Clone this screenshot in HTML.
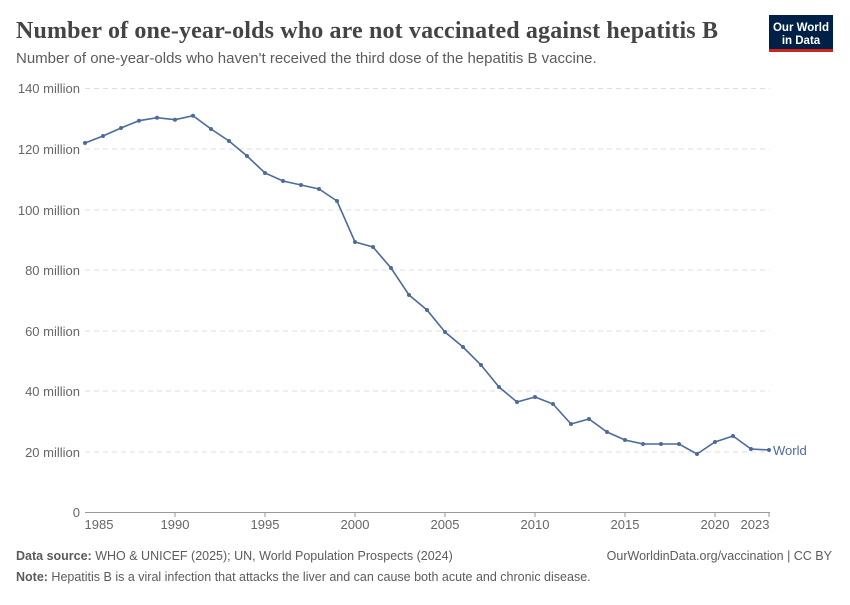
<!DOCTYPE html>
<html><head><meta charset="utf-8"><style>
body{margin:0;background:#fff;width:850px;height:600px;overflow:hidden;font-family:"Liberation Sans",sans-serif}
</style></head><body>
<svg width="850" height="600" xmlns="http://www.w3.org/2000/svg" font-family="Liberation Sans, sans-serif">
<text x="16" y="38" font-family="Liberation Serif, serif" font-size="24" font-weight="bold" fill="#444" letter-spacing="0.15">Number of one-year-olds who are not vaccinated against hepatitis B</text>
<text x="16" y="63" font-size="15" fill="#5b5b5b">Number of one-year-olds who haven't received the third dose of the hepatitis B vaccine.</text>
<rect x="769" y="15" width="64" height="36" fill="#002147"/>
<rect x="769" y="49" width="64" height="3" fill="#ce261e"/>
<text x="801" y="31" font-size="11.5" font-weight="bold" fill="#fff" text-anchor="middle">Our World</text>
<text x="801" y="44" font-size="11.5" font-weight="bold" fill="#fff" text-anchor="middle">in Data</text>
<g stroke="#ddd" stroke-dasharray="5,4" stroke-width="1">
<line x1="85" x2="770" y1="88.5" y2="88.5"/><line x1="85" x2="770" y1="149" y2="149"/><line x1="85" x2="770" y1="210" y2="210"/><line x1="85" x2="770" y1="270" y2="270"/><line x1="85" x2="770" y1="331" y2="331"/><line x1="85" x2="770" y1="391" y2="391"/><line x1="85" x2="770" y1="452" y2="452"/>
</g>
<line x1="85" x2="770" y1="512.5" y2="512.5" stroke="#999"/>
<g font-size="13" fill="#666" text-anchor="end">
<text x="80" y="93">140 million</text><text x="80" y="154">120 million</text><text x="80" y="215">100 million</text><text x="80" y="275">80 million</text><text x="80" y="336">60 million</text><text x="80" y="396">40 million</text><text x="80" y="457">20 million</text><text x="80" y="517">0</text>
</g>
<g font-size="13" fill="#666" text-anchor="middle">
<text x="99" y="529">1985</text><text x="175" y="529">1990</text><text x="265" y="529">1995</text><text x="355" y="529">2000</text><text x="445" y="529">2005</text><text x="535" y="529">2010</text><text x="625" y="529">2015</text><text x="715" y="529">2020</text><text x="755" y="529">2023</text>
</g>
<g stroke="#999"><line x1="175" x2="175" y1="512" y2="517"/><line x1="265" x2="265" y1="512" y2="517"/><line x1="355" x2="355" y1="512" y2="517"/><line x1="445" x2="445" y1="512" y2="517"/><line x1="535" x2="535" y1="512" y2="517"/><line x1="625" x2="625" y1="512" y2="517"/><line x1="715" x2="715" y1="512" y2="517"/><line x1="769" x2="769" y1="512" y2="517"/></g>
<polyline fill="none" stroke="#4c6a9c" stroke-width="1.6" points="85,143 103,136 121,128 139,120.7 157,117.7 175,119.7 193,115.7 211,129 229,141 247,156 265,173 283,181 301,185 319,189 337,201 355,242 373,247 391,268 409,295 427,310 445,332 463,347 481,365 499,387 517,402 535,397 553,404 571,424 589,419 607,432 625,440 643,444 661,444 679,444 697,454 715,442 733,436 751,449 769,450"/>
<g fill="#4c6a9c">
<circle cx="85" cy="143" r="2"/><circle cx="103" cy="136" r="2"/><circle cx="121" cy="128" r="2"/><circle cx="139" cy="120.7" r="2"/><circle cx="157" cy="117.7" r="2"/><circle cx="175" cy="119.7" r="2"/><circle cx="193" cy="115.7" r="2"/><circle cx="211" cy="129" r="2"/><circle cx="229" cy="141" r="2"/><circle cx="247" cy="156" r="2"/><circle cx="265" cy="173" r="2"/><circle cx="283" cy="181" r="2"/><circle cx="301" cy="185" r="2"/><circle cx="319" cy="189" r="2"/><circle cx="337" cy="201" r="2"/><circle cx="355" cy="242" r="2"/><circle cx="373" cy="247" r="2"/><circle cx="391" cy="268" r="2"/><circle cx="409" cy="295" r="2"/><circle cx="427" cy="310" r="2"/><circle cx="445" cy="332" r="2"/><circle cx="463" cy="347" r="2"/><circle cx="481" cy="365" r="2"/><circle cx="499" cy="387" r="2"/><circle cx="517" cy="402" r="2"/><circle cx="535" cy="397" r="2"/><circle cx="553" cy="404" r="2"/><circle cx="571" cy="424" r="2"/><circle cx="589" cy="419" r="2"/><circle cx="607" cy="432" r="2"/><circle cx="625" cy="440" r="2"/><circle cx="643" cy="444" r="2"/><circle cx="661" cy="444" r="2"/><circle cx="679" cy="444" r="2"/><circle cx="697" cy="454" r="2"/><circle cx="715" cy="442" r="2"/><circle cx="733" cy="436" r="2"/><circle cx="751" cy="449" r="2"/><circle cx="769" cy="450" r="2"/>
</g>
<text x="773" y="455" font-size="13" fill="#4c6a9c">World</text>
<text x="16" y="560" font-size="12.5" fill="#5b5b5b"><tspan font-weight="bold">Data source:</tspan> WHO &amp; UNICEF (2025); UN, World Population Prospects (2024)</text>
<text x="832" y="560" font-size="12.5" fill="#5b5b5b" text-anchor="end">OurWorldinData.org/vaccination | CC BY</text>
<text x="16" y="581" font-size="12.5" fill="#5b5b5b"><tspan font-weight="bold">Note:</tspan> Hepatitis B is a viral infection that attacks the liver and can cause both acute and chronic disease.</text>
</svg>
</body></html>
